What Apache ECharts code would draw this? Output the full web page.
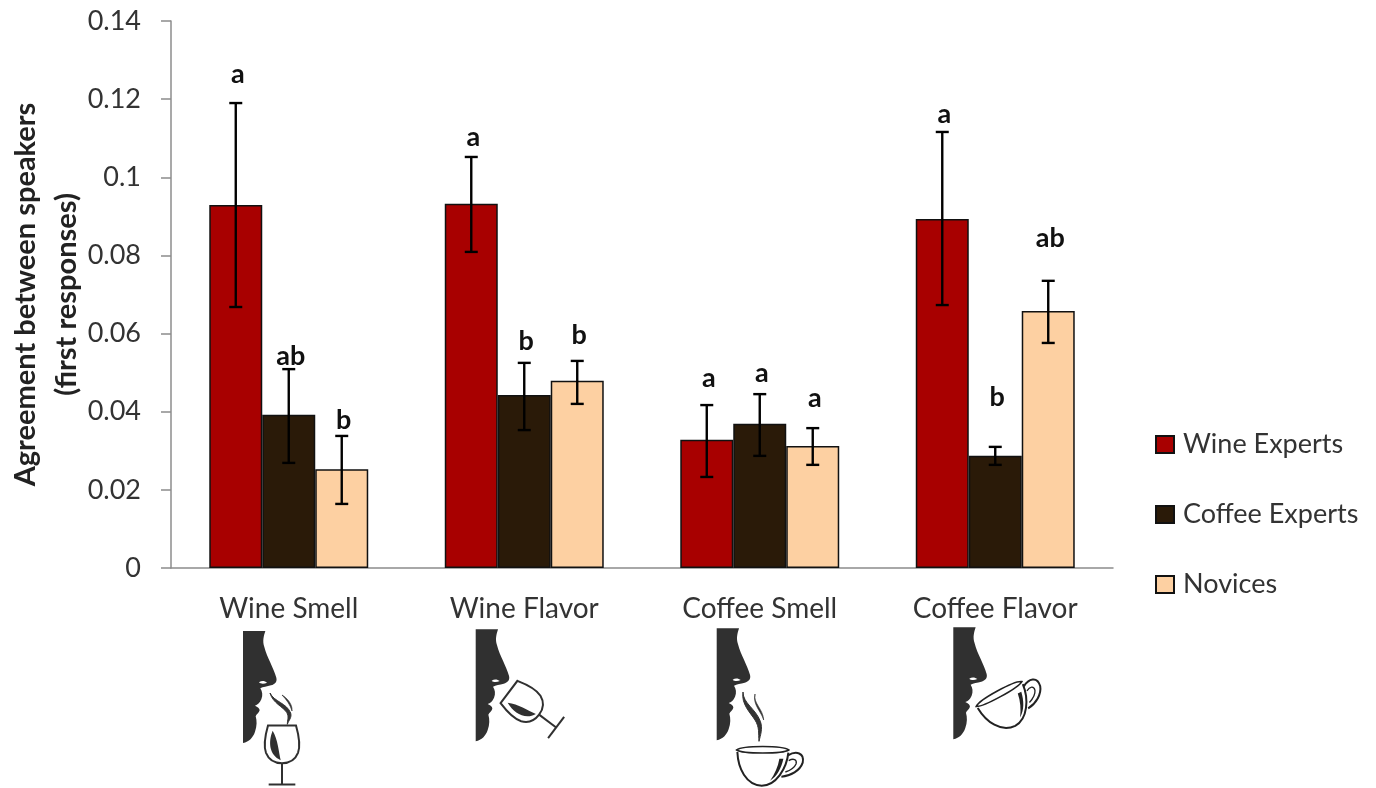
<!DOCTYPE html>
<html>
<head>
<meta charset="utf-8">
<title>Agreement between speakers</title>
<script src="https://cdn.jsdelivr.net/npm/echarts@6/dist/echarts.min.js"></script>
<style>
html, body { margin: 0; padding: 0; background: #fff; }
#chart { width: 1376px; height: 788px; }
</style>
</head>
<body>
<div id="chart"></div>
<script>
var categories = ['Wine Smell', 'Wine Flavor', 'Coffee Smell', 'Coffee Flavor'];
var groups = ['Wine Experts', 'Coffee Experts', 'Novices'];
var colors = ['#a80000', '#2a1a08', '#fdd0a2'];

var wineExperts = [0.0929, 0.0932, 0.0328, 0.0893];
var coffeeExperts = [0.0392, 0.0443, 0.0369, 0.0287];
var novices = [0.0253, 0.0479, 0.0312, 0.0658];

var wineExpertsLow = [0.0668, 0.0809, 0.0233, 0.0673];
var wineExpertsHigh = [0.119, 0.1052, 0.0417, 0.1116];
var coffeeExpertsLow = [0.0269, 0.0353, 0.0287, 0.0264];
var coffeeExpertsHigh = [0.0509, 0.0525, 0.0445, 0.031];
var novicesLow = [0.0164, 0.042, 0.0264, 0.0576];
var novicesHigh = [0.0338, 0.053, 0.0358, 0.0735];

var wineExpertsLetters = ['a', 'a', 'a', 'a'];
var coffeeExpertsLetters = ['ab', 'b', 'a', 'b'];
var novicesLetters = ['b', 'b', 'a', 'ab'];

// height at which each significance letter sits
var wineExpertsLetterY = [0.1264, 0.1103, 0.0486, 0.1162];
var coffeeExpertsLetterY = [0.0543, 0.0581, 0.0499, 0.0438];
var novicesLetterY = [0.0379, 0.0596, 0.0435, 0.0845];

var yTicks = { min: 0, max: 0.14, interval: 0.02 };

var FONT = 'Lato';
var BAR_PCT = 0.225;

var values = [wineExperts, coffeeExperts, novices];
var lows = [wineExpertsLow, coffeeExpertsLow, novicesLow];
var highs = [wineExpertsHigh, coffeeExpertsHigh, novicesHigh];
var letters = [wineExpertsLetters, coffeeExpertsLetters, novicesLetters];
var letterYs = [wineExpertsLetterY, coffeeExpertsLetterY, novicesLetterY];

function errorRenderer(g) {
  return function (params, api) {
    var cat = api.value(0);
    var band = api.size([1, 0])[0];
    var x = api.coord([cat, 0])[0] + (g - 1) * band * BAR_PCT;
    var top = api.coord([cat, api.value(2)])[1];
    var bottom = api.coord([cat, api.value(1)])[1];
    var letterY = api.coord([cat, api.value(3)])[1];
    var st = { stroke: '#000', lineWidth: 2.4 };
    return {
      type: 'group',
      children: [
        { type: 'line', shape: { x1: x, y1: top, x2: x, y2: bottom }, style: st },
        { type: 'line', shape: { x1: x - 6.5, y1: top, x2: x + 6.5, y2: top }, style: st },
        { type: 'line', shape: { x1: x - 6.5, y1: bottom, x2: x + 6.5, y2: bottom }, style: st },
        {
          type: 'text',
          x: x + 2,
          y: letterY,
          style: {
            text: letters[g][params.dataIndex],
            font: 'bold 27px ' + FONT,
            fill: '#111',
            align: 'center',
            verticalAlign: 'middle'
          }
        }
      ]
    };
  };
}

var series = [];
groups.forEach(function (name, g) {
  series.push({
    name: name,
    type: 'bar',
    data: values[g],
    barWidth: BAR_PCT * 100 + '%',
    barGap: 0,
    itemStyle: { color: colors[g], borderColor: '#111', borderWidth: 1.5 }
  });
});
groups.forEach(function (name, g) {
  series.push({
    name: name + ' error',
    type: 'custom',
    renderItem: errorRenderer(g),
    encode: { x: 0, y: [1, 2] },
    z: 5,
    data: categories.map(function (c, i) {
      return [i, lows[g][i], highs[g][i], letterYs[g][i]];
    })
  });
});

// little drawings under the axis, paths are in 3x units and scaled down
var INK = '#303030';
var facePath = 'M0,0 L67,0 C62,15 58,30 64,48 C72,80 92,110 100,140 C103,152 96,160 84,163 ' +
  'C72,166 60,168 52,172 C58,182 60,192 55,205 C50,216 44,222 36,224 C44,228 50,232 50,238 ' +
  'C48,246 40,250 38,256 C42,270 42,285 36,302 C30,320 18,332 0,336 Z';
var glassBowl = 'M-42,0 L42,0 C52,35 56,60 48,82 C40,102 22,113 0,113 C-22,113 -40,102 -48,82 C-56,60 -52,35 -42,0 Z';
var glassWine = 'M-28,16 C-42,50 -38,90 -4,104 C-10,78 -12,44 -28,16 Z';
var cupBody = 'M-76,6 C-74,55 -50,105 -3,107 C40,107 72,55 77,8';
var cupRim = 'M-78,0 C-60,-14 60,-14 78,0 C60,12 -60,12 -78,0 Z';
var cupHandle = 'M76,16 C100,2 126,8 120,38 C112,62 84,78 56,80';
var cupHandleIn = 'M78,32 C92,24 104,28 100,42 C94,56 80,62 68,66';
var cupStreak = 'M62,26 C56,54 44,78 22,92 C36,72 46,50 50,26 Z';

function face(x, y) {
  return {
    type: 'group', x: x, y: y, scaleX: 1 / 3, scaleY: 1 / 3,
    children: [
      { type: 'path', shape: { pathData: facePath }, style: { fill: INK } },
      { type: 'path', shape: { pathData: 'M48,154 C56,148 66,150 72,155 C64,159 54,160 48,154 Z' }, style: { fill: '#fff' } }
    ]
  };
}

function glass(x, y, rot) {
  return {
    type: 'group', x: x, y: y, scaleX: 1 / 3, scaleY: 1 / 3, rotation: rot,
    children: [
      { type: 'path', shape: { pathData: glassBowl }, style: { fill: 'none', stroke: INK, lineWidth: 6 } },
      { type: 'path', shape: { pathData: glassWine }, style: { fill: INK } },
      { type: 'line', shape: { x1: 0, y1: 113, x2: 0, y2: 176 }, style: { stroke: INK, lineWidth: 6 } },
      { type: 'line', shape: { x1: -40, y1: 177, x2: 40, y2: 177 }, style: { stroke: INK, lineWidth: 6 } }
    ]
  };
}

function cup(x, y, rot) {
  var thin = { fill: 'none', stroke: '#222', lineWidth: 6 };
  return {
    type: 'group', x: x, y: y, scaleX: 1 / 3, scaleY: 1 / 3, rotation: rot,
    children: [
      { type: 'path', shape: { pathData: cupRim }, style: { fill: 'none', stroke: '#222', lineWidth: 5 } },
      { type: 'path', shape: { pathData: cupBody }, style: thin },
      { type: 'path', shape: { pathData: cupHandle }, style: thin },
      { type: 'path', shape: { pathData: cupHandleIn }, style: { fill: 'none', stroke: '#222', lineWidth: 4 } },
      { type: 'path', shape: { pathData: cupStreak }, style: { fill: '#222' } }
    ]
  };
}

function steam(x, y, main, side, w) {
  return {
    type: 'group', x: x, y: y, scaleX: 1 / 3, scaleY: 1 / 3,
    children: [
      { type: 'path', shape: { pathData: main }, style: { fill: '#333', stroke: '#333', lineWidth: w } },
      { type: 'path', shape: { pathData: side }, style: { fill: '#333', stroke: '#333', lineWidth: w - 1 } }
    ]
  };
}

var icons = [
  face(243, 631),
  glass(282, 725.5, 0),
  steam(270, 693,
    'M0,0 C12,26 50,30 62,60 C66,74 56,82 52,94 C52,80 58,72 50,58 C40,42 8,30 0,0 Z',
    'M36,6 C52,16 68,34 66,54 C62,38 50,20 36,6 Z', 3),
  face(475.7, 629.3),
  glass(509, 692, 0.925),
  face(716.7, 628.3),
  cup(762.7, 750, 0),
  steam(743, 692,
    'M0,0 C0,34 38,50 52,88 C60,110 52,130 48,148 C46,124 50,106 36,84 C22,62 -6,36 0,0 Z',
    'M36,6 C30,34 60,50 62,84 C56,60 28,38 36,6 Z', 3),
  face(953.3, 627.3),
  cup(999, 694, 0.5)
];

series.push({
  name: 'icons',
  type: 'custom',
  silent: true,
  data: [[0, 0]],
  renderItem: function () {
    return { type: 'group', children: icons };
  }
});

var myChart = echarts.init(document.getElementById('chart'));
myChart.setOption({
  animation: false,
  backgroundColor: '#fff',
  textStyle: { fontFamily: FONT },
  grid: { left: 171, right: 263, top: 21, bottom: 220, outerBoundsMode: 'none' },
  legend: {
    data: groups,
    icon: 'rect',
    orient: 'vertical',
    left: 1155,
    top: 431,
    padding: 0,
    itemWidth: 18,
    itemHeight: 17,
    itemGap: 43,
    textStyle: { fontSize: 27, color: '#333', fontFamily: FONT, padding: [0, 0, 0, 4] }
  },
  xAxis: {
    type: 'category',
    data: categories,
    axisLine: { lineStyle: { color: '#8c8c8c', width: 1.5 } },
    axisTick: { length: 8, lineStyle: { color: '#8c8c8c', width: 1.5 } },
    axisLabel: { fontSize: 28, color: '#333', margin: 27, fontFamily: FONT }
  },
  yAxis: {
    type: 'value',
    min: yTicks.min,
    max: yTicks.max,
    interval: yTicks.interval,
    name: 'Agreement between speakers\n(first responses)',
    nameLocation: 'middle',
    nameGap: 84,
    nameMoveOverlap: false,
    nameTextStyle: { fontSize: 29, fontWeight: 'bold', color: '#222', lineHeight: 41, fontFamily: FONT },
    axisLine: { show: true, lineStyle: { color: '#8c8c8c', width: 1.5 } },
    axisTick: { show: true, length: 10, lineStyle: { color: '#8c8c8c', width: 1.5 } },
    axisLabel: { fontSize: 27, color: '#333', margin: 30, fontFamily: FONT },
    splitLine: { show: false }
  },
  series: series
});
</script>
</body>
</html>
